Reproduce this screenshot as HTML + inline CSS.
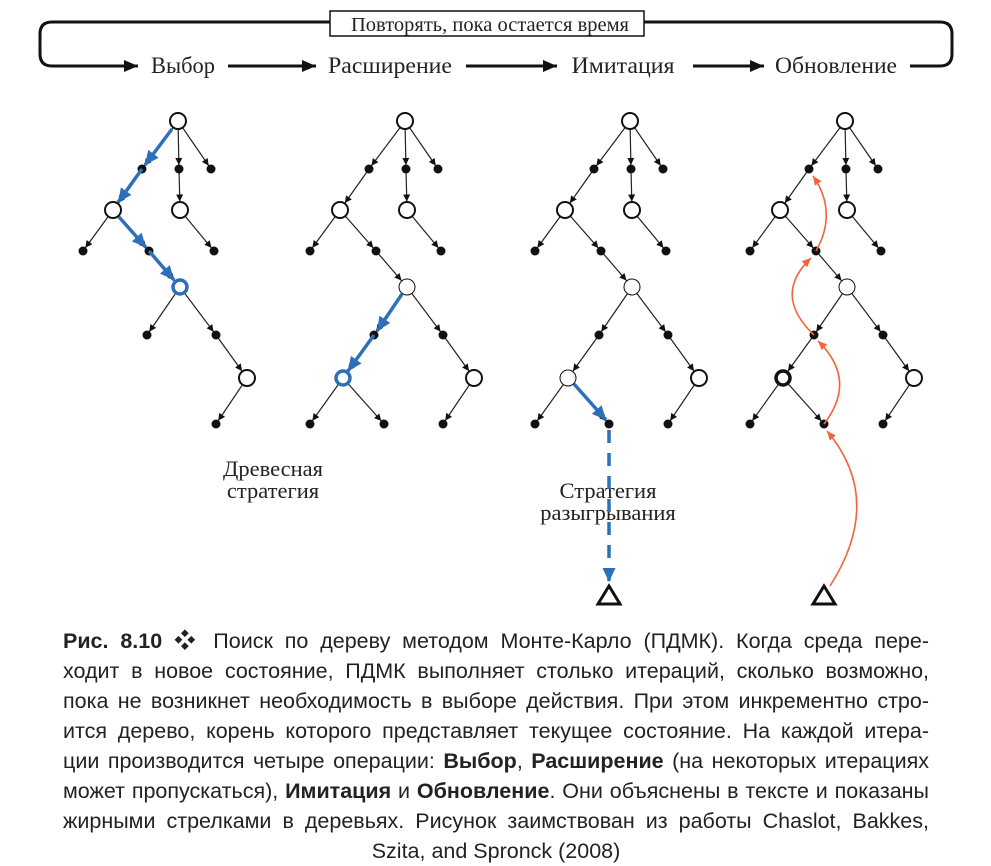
<!DOCTYPE html>
<html><head><meta charset="utf-8"><style>
html,body{margin:0;padding:0;background:#fff;width:991px;height:866px;overflow:hidden;position:relative}
svg{position:absolute;left:0;top:0}
.cap{position:absolute;left:63px;top:626px;width:866px;font-family:"Liberation Sans","Noto Sans CJK SC",sans-serif;font-size:21.5px;line-height:30px;color:#222;text-align:justify;text-align-last:justify}
.cap div{white-space:nowrap}
.cap .last{text-align:center;text-align-last:center}
</style></head><body>
<svg width="991" height="866" viewBox="0 0 991 866">
<defs>
<marker id="md" markerUnits="userSpaceOnUse" markerWidth="20" markerHeight="20" viewBox="-20 -10 20 20" refX="0" refY="0" orient="auto"><path d="M-4,0 L-11,-3.5 L-11,3.5 z" fill="#111"/></marker>
<marker id="mc" markerUnits="userSpaceOnUse" markerWidth="20" markerHeight="20" viewBox="-20 -10 20 20" refX="0" refY="0" orient="auto"><path d="M-8.5,0 L-15.5,-3.5 L-15.5,3.5 z" fill="#111"/></marker>
<marker id="mb" markerUnits="userSpaceOnUse" markerWidth="24" markerHeight="24" viewBox="-20 -10 24 20" refX="0" refY="0" orient="auto"><path d="M0,0 L-14,-6.5 L-14,6.5 z" fill="#2e6fba"/></marker>
<marker id="mo" markerUnits="userSpaceOnUse" markerWidth="20" markerHeight="20" viewBox="-20 -10 20 20" refX="0" refY="0" orient="auto"><path d="M0,0 L-9,-4 L-9,4 z" fill="#f0663a"/></marker>
<marker id="mk" markerUnits="userSpaceOnUse" markerWidth="24" markerHeight="24" viewBox="-20 -10 24 20" refX="0" refY="0" orient="auto"><path d="M0,0 L-14,-6 L-14,6 z" fill="#111"/></marker>
<g id="base" stroke="#222" stroke-width="1.2" fill="none">
<line x1="178" y1="121" x2="142" y2="169" marker-end="url(#md)"/>
<line x1="178" y1="121" x2="179" y2="169" marker-end="url(#md)"/>
<line x1="178" y1="121" x2="211" y2="169" marker-end="url(#md)"/>
<line x1="142" y1="169" x2="113" y2="210" marker-end="url(#mc)"/>
<line x1="179" y1="169" x2="180" y2="210" marker-end="url(#mc)"/>
<line x1="113" y1="210" x2="83" y2="251" marker-end="url(#md)"/>
<line x1="113" y1="210" x2="149" y2="251" marker-end="url(#md)"/>
<line x1="180" y1="210" x2="214" y2="251" marker-end="url(#md)"/>
<line x1="149" y1="251" x2="180" y2="287" marker-end="url(#mc)"/>
<line x1="180" y1="287" x2="147" y2="335" marker-end="url(#md)"/>
<line x1="180" y1="287" x2="216" y2="335" marker-end="url(#md)"/>
<line x1="216" y1="335" x2="247" y2="378" marker-end="url(#mc)"/>
<line x1="247" y1="378" x2="216" y2="424" marker-end="url(#md)"/>
</g>
<g id="ext" stroke="#222" stroke-width="1.2" fill="none">
<line x1="147" y1="335" x2="116" y2="378" marker-end="url(#mc)"/>
<line x1="116" y1="378" x2="83" y2="424" marker-end="url(#md)"/>
<line x1="116" y1="378" x2="157" y2="424" marker-end="url(#md)"/>
</g>
<g id="dots" fill="#111">
<circle cx="142" cy="169" r="4.5"/><circle cx="179" cy="169" r="4.5"/><circle cx="211" cy="169" r="4.5"/>
<circle cx="83" cy="251" r="4.5"/><circle cx="149" cy="251" r="4.5"/><circle cx="214" cy="251" r="4.5"/>
<circle cx="147" cy="335" r="4.5"/><circle cx="216" cy="335" r="4.5"/><circle cx="216" cy="424" r="4.5"/>
</g>
<g id="dots2" fill="#111"><circle cx="83" cy="424" r="4.5"/><circle cx="157" cy="424" r="4.5"/></g>
<g id="circs" fill="#fff" stroke="#111" stroke-width="2">
<circle cx="178" cy="121" r="8"/><circle cx="113" cy="210" r="8"/><circle cx="180" cy="210" r="8"/><circle cx="247" cy="378" r="8"/>
</g>
</defs>

<g fill="none" stroke="#111" stroke-width="3">
<path d="M330,22 H52 Q40,22 40,34 V54 Q40,66 52,66 H138" marker-end="url(#mk)"/>
<path d="M644,22 H940 Q952,22 952,34 V54 Q952,66 940,66 H910"/>
<line x1="228" y1="66" x2="316" y2="66" marker-end="url(#mk)"/>
<line x1="466" y1="66" x2="557" y2="66" marker-end="url(#mk)"/>
<line x1="693" y1="66" x2="764" y2="66" marker-end="url(#mk)"/>
</g>
<rect x="330" y="11" width="314" height="25" fill="#fff" stroke="#111" stroke-width="1.5"/>
<g font-family="Liberation Serif, serif" fill="#222">
<text x="490" y="31" font-size="20" text-anchor="middle" textLength="278" lengthAdjust="spacingAndGlyphs">Повторять, пока остается время</text>
<text x="183" y="73" font-size="23" text-anchor="middle" textLength="64" lengthAdjust="spacingAndGlyphs">Выбор</text>
<text x="390" y="73" font-size="23" text-anchor="middle" textLength="124" lengthAdjust="spacingAndGlyphs">Расширение</text>
<text x="623" y="73" font-size="23" text-anchor="middle" textLength="103" lengthAdjust="spacingAndGlyphs">Имитация</text>
<text x="836" y="73" font-size="23" text-anchor="middle" textLength="122" lengthAdjust="spacingAndGlyphs">Обновление</text>
<text x="273" y="476" font-size="22.5" text-anchor="middle">Древесная</text>
<text x="273" y="498" font-size="22.5" text-anchor="middle">стратегия</text>
<text x="608" y="498" font-size="22.5" text-anchor="middle">Стратегия</text>
<text x="608" y="520" font-size="22.5" text-anchor="middle">разыгрывания</text>
</g>

<g>
<use href="#base"/><use href="#dots"/><use href="#circs"/>
<g stroke="#2e6fba" stroke-width="3.5" fill="none">
<line x1="172" y1="129" x2="145" y2="165" marker-end="url(#mb)"/>
<line x1="142" y1="169" x2="118" y2="202.5" marker-end="url(#mb)"/>
<line x1="119" y1="217" x2="146" y2="247.5" marker-end="url(#mb)"/>
<line x1="149" y1="251" x2="174" y2="280" marker-end="url(#mb)"/>
</g>
<circle cx="180" cy="287" r="7" fill="#fff" stroke="#2e6fba" stroke-width="3.5"/>
</g>

<g transform="translate(227,0)">
<use href="#base"/><use href="#ext"/><use href="#dots"/><use href="#dots2"/><use href="#circs"/>
<circle cx="180" cy="287" r="8" fill="#fff" stroke="#111" stroke-width="1"/>
<g stroke="#2e6fba" stroke-width="3.5" fill="none">
<line x1="175" y1="294" x2="150" y2="331" marker-end="url(#mb)"/>
<line x1="147" y1="335" x2="121" y2="371" marker-end="url(#mb)"/>
</g>
<circle cx="116" cy="378" r="7" fill="#fff" stroke="#2e6fba" stroke-width="3.5"/>
</g>

<g transform="translate(452,0)">
<use href="#base"/><use href="#ext"/><use href="#dots"/><use href="#dots2"/><use href="#circs"/>
<circle cx="180" cy="287" r="8" fill="#fff" stroke="#111" stroke-width="1"/>
<circle cx="116" cy="378" r="8" fill="#fff" stroke="#111" stroke-width="1"/>
<g stroke="#2e6fba" stroke-width="3.5" fill="none">
<line x1="122" y1="384" x2="154" y2="420" marker-end="url(#mb)"/>
<line x1="157" y1="430" x2="157" y2="582" stroke-dasharray="13 10" marker-end="url(#mb)"/>
</g>
<polygon points="157,586 146,604 168,604" fill="#fff" stroke="#111" stroke-width="3"/>
</g>

<g transform="translate(667,0)">
<use href="#base"/><use href="#ext"/><use href="#dots"/><use href="#dots2"/><use href="#circs"/>
<circle cx="180" cy="287" r="8" fill="#fff" stroke="#111" stroke-width="1"/>
<circle cx="116" cy="378" r="7" fill="#fff" stroke="#111" stroke-width="3.5"/>
<polygon points="157,586 146,604 168,604" fill="#fff" stroke="#111" stroke-width="3"/>
</g>
<g stroke="#f0663a" stroke-width="1.6" fill="none">
<path d="M830,586 Q885,500 827,431" marker-end="url(#mo)"/>
<path d="M824,424 Q858,380 818,341" marker-end="url(#mo)"/>
<path d="M814,335 Q772,295 811,258" marker-end="url(#mo)"/>
<path d="M816,251 Q838,212 813,176" marker-end="url(#mo)"/>
</g>
</svg>

<div class="cap">
<div><b>Рис. 8.10</b> ❖ Поиск по дереву методом Монте-Карло (ПДМК). Когда среда пере-</div>
<div>ходит в новое состояние, ПДМК выполняет столько итераций, сколько возможно,</div>
<div>пока не возникнет необходимость в выборе действия. При этом инкрементно стро-</div>
<div>ится дерево, корень которого представляет текущее состояние. На каждой итера-</div>
<div>ции производится четыре операции: <b>Выбор</b>, <b>Расширение</b> (на некоторых итерациях</div>
<div>может пропускаться), <b>Имитация</b> и <b>Обновление</b>. Они объяснены в тексте и показаны</div>
<div>жирными стрелками в деревьях. Рисунок заимствован из работы Chaslot, Bakkes,</div>
<div class="last">Szita, and Spronck (2008)</div>
</div>
</body></html>
